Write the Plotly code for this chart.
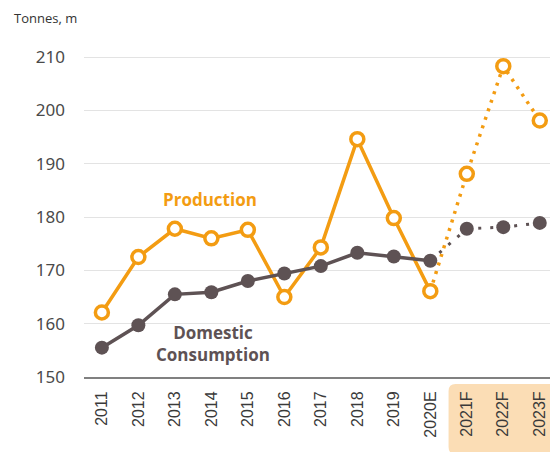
import plotly.graph_objects as go

categories = ["2011", "2012", "2013", "2014", "2015", "2016", "2017",
              "2018", "2019", "2020E", "2021F", "2022F", "2023F"]
production = [162.1, 172.5, 177.8, 176.0, 177.6, 165.0, 174.3,
              194.6, 179.8, 166.1, 188.1, 208.3, 198.1]
consumption = [155.5, 159.7, 165.5, 165.9, 168.0, 169.4, 170.8,
               173.3, 172.6, 171.8, 177.8, 178.1, 178.9]
n_actual = 10  # 2011..2020E are actual/estimate, rest forecast
y_ticks = [150, 160, 170, 180, 190, 200, 210]

ORANGE = "#F39C12"
GREY = "#5E5254"

W, H = 550, 452
ML, MR, MT, MB = 84, 0, 40, 75
xr = [-0.49, 12.28]
yr = [150, 213.2]

fig = go.Figure()

# Production
fig.add_trace(go.Scatter(x=categories[n_actual - 1:], y=production[n_actual - 1:],
                         mode="lines", line=dict(color=ORANGE, width=3.5, dash="3px,6px"),
                         hoverinfo="skip", showlegend=False))
fig.add_trace(go.Scatter(x=categories[:n_actual], y=production[:n_actual],
                         mode="lines+markers", line=dict(color=ORANGE, width=3.5),
                         marker=dict(size=13, color="white", line=dict(color=ORANGE, width=3.5)),
                         showlegend=False, name="Production"))
fig.add_trace(go.Scatter(x=categories[n_actual:], y=production[n_actual:],
                         mode="markers",
                         marker=dict(size=13, color="white", line=dict(color=ORANGE, width=3.5)),
                         showlegend=False, name="Production"))
# Consumption
fig.add_trace(go.Scatter(x=categories[n_actual - 1:], y=consumption[n_actual - 1:],
                         mode="lines", line=dict(color=GREY, width=3, dash="3px,9px"),
                         hoverinfo="skip", showlegend=False))
fig.add_trace(go.Scatter(x=categories[:n_actual], y=consumption[:n_actual],
                         mode="lines+markers", line=dict(color=GREY, width=3.5),
                         marker=dict(size=14, color=GREY),
                         showlegend=False, name="Domestic Consumption"))
fig.add_trace(go.Scatter(x=categories[n_actual:], y=consumption[n_actual:],
                         mode="markers", marker=dict(size=14, color=GREY),
                         showlegend=False, name="Domestic Consumption"))

# Forecast shading behind tick labels (paper coords derived from category index)
pw = W - ML - MR
ph = H - MT - MB
def xp(i):
    return (i - xr[0]) / (xr[1] - xr[0])
x0 = xp(n_actual - 0.5)
x1 = 1.02
y1 = -7 / ph
y0 = -(MB + 2) / ph
rx = 7 / pw
ry = 7 / ph
path = (f"M {x0 + rx},{y1} L {x1},{y1} L {x1},{y0} L {x0 + rx},{y0} "
        f"Q {x0},{y0} {x0},{y0 + ry} L {x0},{y1 - ry} Q {x0},{y1} {x0 + rx},{y1} Z")
fig.add_shape(type="path", path=path, xref="paper", yref="paper",
              fillcolor="#FBDDB5", line=dict(width=0), layer="below")

fig.add_annotation(text="<b>Production</b>", x=2.95, y=183.3, xref="x", yref="y",
                   showarrow=False, font=dict(family="Open Sans", size=17, color=ORANGE))
fig.add_annotation(text="<b>Domestic<br>Consumption</b>", x=3.05, y=156.3, xref="x", yref="y",
                   showarrow=False, font=dict(family="Open Sans", size=17, color=GREY),
                   align="center")
fig.add_annotation(text="Tonnes, m", x=-ML / pw + 12 / pw, y=1 + 22 / ph, xref="paper", yref="paper",
                   xanchor="left", yanchor="middle", showarrow=False,
                   font=dict(family="Open Sans", size=13, color="#333333"))

fig.update_layout(
    width=W, height=H,
    margin=dict(l=ML, r=MR, t=MT, b=MB, pad=0),
    paper_bgcolor="white", plot_bgcolor="white",
    showlegend=False,
    xaxis=dict(type="category", categoryorder="array", categoryarray=categories,
               range=xr, tickangle=-90, showgrid=False,
               showline=True, linecolor="#808080", linewidth=2,
               ticks="", tickfont=dict(family="Liberation Sans", size=16, color="#3A3A3A"),
               ticklabelstandoff=6),
    yaxis=dict(range=yr, tickvals=y_ticks, showgrid=True, gridcolor="#E3E3E3", gridwidth=1,
               zeroline=False, showline=False, ticks="",
               tickfont=dict(family="Noto Sans", size=17, color="#4A4A4A"),
               ticklabelstandoff=18),
)

fig.write_html("out.html")
